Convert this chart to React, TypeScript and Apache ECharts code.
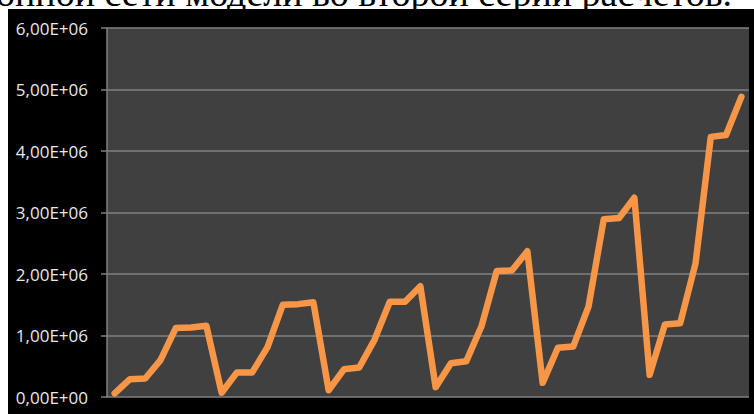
import React, { useEffect, useRef } from "react";
import * as echarts from "echarts";

// Run index along the horizontal axis (not labelled)
const runs: string[] = Array.from({ length: 42 }, (_, i) => String(i + 1));

// Values per run, in six cycles of seven runs
const values: number[] = [
  60000, 290000, 300000, 600000, 1120000, 1130000, 1160000,
  70000, 400000, 400000, 810000, 1500000, 1510000, 1540000,
  110000, 450000, 480000, 930000, 1550000, 1550000, 1800000,
  160000, 550000, 580000, 1150000, 2050000, 2060000, 2370000,
  230000, 800000, 820000, 1470000, 2890000, 2910000, 3240000,
  360000, 1180000, 1200000, 2170000, 4230000, 4260000, 4880000,
];

const yMin = 0;
const yMax = 6000000;
const yStep = 1000000;

const caption = "онной сети модели во второй серии расчетов.";

function sci(v: number): string {
  if (v === 0) return "0,00E+00";
  const exp = Math.floor(Math.log10(Math.abs(v)));
  const mant = v / Math.pow(10, exp);
  const e = String(Math.abs(exp)).padStart(2, "0");
  return mant.toFixed(2).replace(".", ",") + "E" + (exp < 0 ? "-" : "+") + e;
}

export default function App() {
  const ref = useRef<HTMLDivElement>(null);

  useEffect(() => {
    if (!ref.current) return;
    const chart = echarts.init(ref.current, undefined, { renderer: "svg" });
    chart.setOption({
      animation: false,
      backgroundColor: "#ffffff",
      graphic: [
        {
          type: "text",
          z: -20,
          x: -4,
          y: -7,
          style: {
            text: caption,
            font: '38px "Liberation Serif", "Times New Roman", serif',
            fill: "#000000",
            verticalAlign: "middle",
            align: "left",
          },
        },
        {
          type: "rect",
          z: -10,
          shape: { x: 8, y: 9, width: 746, height: 405 },
          style: { fill: "#000000" },
        },
      ],
      grid: {
        left: 107,
        right: 5,
        top: 28,
        bottom: 17,
        show: true,
        backgroundColor: "#404040",
        borderWidth: 0,
      },
      xAxis: {
        type: "category",
        data: runs,
        boundaryGap: true,
        axisLine: { show: false },
        axisTick: { show: false },
        axisLabel: { show: false },
        splitLine: { show: false },
      },
      yAxis: {
        type: "value",
        min: yMin,
        max: yMax,
        interval: yStep,
        axisLine: { show: true, lineStyle: { color: "#808080", width: 1.5 } },
        axisTick: {
          show: true,
          inside: false,
          length: 6,
          lineStyle: { color: "#808080", width: 1.5 },
        },
        axisLabel: {
          margin: 19,
          color: "#e8e8e8",
          fontFamily: '"Open Sans", sans-serif',
          fontSize: 17,
          formatter: (v: number) => sci(v),
        },
        splitLine: { show: true, lineStyle: { color: "#808080", width: 1.5 } },
      },
      series: [
        {
          type: "line",
          data: values,
          symbol: "none",
          lineStyle: { color: "#F79646", width: 6.5, cap: "round", join: "round" },
          itemStyle: { color: "#F79646" },
        },
      ],
    });
    return () => chart.dispose();
  }, []);

  return (
    <div
      ref={ref}
      style={{ position: "fixed", left: 0, top: 0, width: 754, height: 414 }}
    />
  );
}
